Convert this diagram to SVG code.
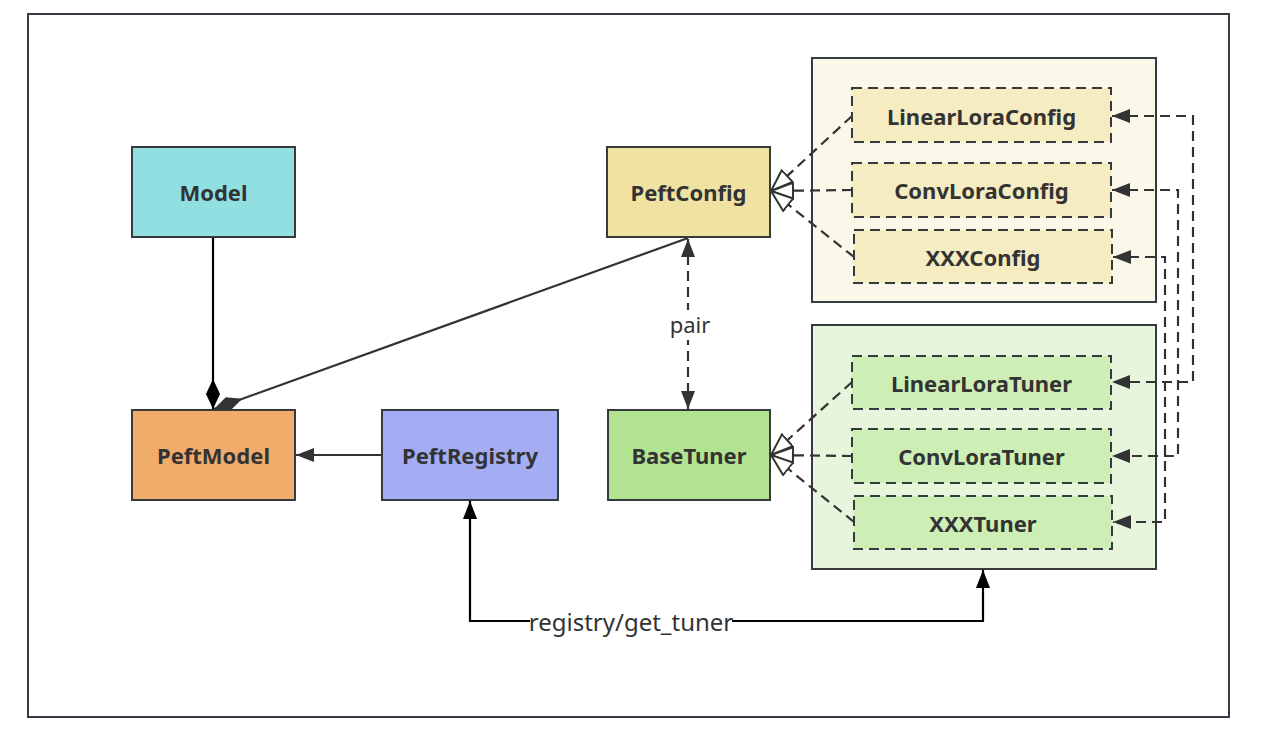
<svg xmlns="http://www.w3.org/2000/svg" width="1265" height="744" viewBox="0 0 1265 744">
<style>
.node{stroke:#353a3f;stroke-width:2}
.lbl{font-family:"Noto Sans","Open Sans","DejaVu Sans",sans-serif;font-weight:bold;font-size:22px;fill:#333;text-anchor:middle;dominant-baseline:central}
.txt{font-family:"Noto Sans","Open Sans","DejaVu Sans",sans-serif;font-size:22px;fill:#333;text-anchor:middle;dominant-baseline:central}
.dash{stroke-dasharray:10 6}
.c{fill:none;stroke:#333;stroke-width:2.2}
</style>
<defs>
<marker id="arr" viewBox="0 0 18 14" refX="18" refY="7" markerWidth="18" markerHeight="14" markerUnits="userSpaceOnUse" orient="auto-start-reverse">
<path d="M0,0 L18,7 L0,14 Z" fill="#333"/>
</marker>
<marker id="arrK" viewBox="0 0 18 14" refX="18" refY="7" markerWidth="18" markerHeight="14" markerUnits="userSpaceOnUse" orient="auto-start-reverse">
<path d="M0,0 L18,7 L0,14 Z" fill="#000"/>
</marker>
<marker id="tri" viewBox="0 0 24 18" refX="23" refY="9" markerWidth="24" markerHeight="18" markerUnits="userSpaceOnUse" orient="auto">
<path d="M1,1 L23,9 L1,17 Z" fill="#fff" stroke="#333" stroke-width="2"/>
</marker>
<marker id="dia" viewBox="0 0 30 14" refX="30" refY="7" markerWidth="30" markerHeight="14" markerUnits="userSpaceOnUse" orient="auto">
<path d="M0,7 L15,0 L30,7 L15,14 Z" fill="#333"/>
</marker>
<marker id="diaK" viewBox="0 0 30 14" refX="30" refY="7" markerWidth="30" markerHeight="14" markerUnits="userSpaceOnUse" orient="auto">
<path d="M0,7 L15,0 L30,7 L15,14 Z" fill="#000"/>
</marker>
</defs>
<rect x="0" y="0" width="1265" height="744" fill="#fff"/>
<rect x="28" y="14" width="1201" height="703" fill="#fff" stroke="#353c44" stroke-width="2"/>

<g id="config-group">
<rect x="812" y="58" width="344" height="244" fill="#fcf8e9" class="node"/>
</g>
<g id="tuner-group">
<rect x="812" y="325" width="344" height="244" fill="#e6f5dc" class="node"/>
</g>

<g id="connectors">
<line x1="213" y1="238" x2="213" y2="409" stroke="#000" stroke-width="2.2" marker-end="url(#diaK)"/>
<line x1="688" y1="238" x2="214" y2="409" class="c" marker-end="url(#dia)"/>
<line x1="382" y1="455" x2="296" y2="455" class="c" marker-end="url(#arr)"/>
<line x1="688" y1="239" x2="688" y2="409" class="c dash" marker-start="url(#arr)" marker-end="url(#arr)"/>
<path d="M852,116 L771,191" class="c dash" marker-end="url(#tri)"/>
<path d="M852,190 L771,191" class="c dash" marker-end="url(#tri)"/>
<path d="M854,257 L771,191" class="c dash" marker-end="url(#tri)"/>
<path d="M852,382 L771,455" class="c dash" marker-end="url(#tri)"/>
<path d="M852,456 L771,455" class="c dash" marker-end="url(#tri)"/>
<path d="M854,522 L771,455" class="c dash" marker-end="url(#tri)"/>
<path d="M1112,116 H1193 V382 H1112" class="c dash" marker-start="url(#arr)" marker-end="url(#arr)"/>
<path d="M1112,190 H1178 V456 H1112" class="c dash" marker-start="url(#arr)" marker-end="url(#arr)"/>
<path d="M1113,257 H1165 V522 H1113" class="c dash" marker-start="url(#arr)" marker-end="url(#arr)"/>
<path d="M470,501 V621 H983 V570" fill="none" stroke="#000" stroke-width="2.2" marker-start="url(#arrK)" marker-end="url(#arrK)"/>
<rect x="669" y="310" width="42" height="30" fill="#fff"/>
<text x="690" y="324" class="txt">pair</text>
<rect x="530" y="607" width="202" height="30" fill="#fff"/>
<text x="631" y="621" class="txt" style="font-size:24px">registry/get_tuner</text>
</g>

<g id="Model">
<rect x="132" y="147" width="163" height="90" fill="#92dfe1" class="node"/>
<text x="213.5" y="192" class="lbl">Model</text>
</g>
<g id="PeftModel">
<rect x="132" y="410" width="163" height="90" fill="#f1ab6a" class="node"/>
<text x="213.5" y="455" class="lbl">PeftModel</text>
</g>
<g id="PeftRegistry">
<rect x="382" y="410" width="176" height="90" fill="#a4adf3" class="node"/>
<text x="470" y="455" class="lbl">PeftRegistry</text>
</g>
<g id="PeftConfig">
<rect x="607" y="147" width="163" height="90" fill="#f0e2a0" class="node"/>
<text x="688.5" y="192" class="lbl">PeftConfig</text>
</g>
<g id="BaseTuner">
<rect x="608" y="410" width="162" height="90" fill="#b1e390" class="node"/>
<text x="689" y="455" class="lbl">BaseTuner</text>
</g>
<g id="LinearLoraConfig">
<rect x="852" y="88" width="259" height="54" fill="#f6ecc1" class="node dash"/>
<text x="981.5" y="116" class="lbl">LinearLoraConfig</text>
</g>
<g id="ConvLoraConfig">
<rect x="852" y="163" width="259" height="54" fill="#f6ecc1" class="node dash"/>
<text x="981.5" y="190" class="lbl">ConvLoraConfig</text>
</g>
<g id="XXXConfig">
<rect x="854" y="230" width="258" height="53" fill="#f6ecc1" class="node dash"/>
<text x="983" y="257" class="lbl">XXXConfig</text>
</g>
<g id="LinearLoraTuner">
<rect x="852" y="356" width="259" height="53" fill="#cdeeb5" class="node dash"/>
<text x="981.5" y="383" class="lbl">LinearLoraTuner</text>
</g>
<g id="ConvLoraTuner">
<rect x="852" y="429" width="259" height="54" fill="#cdeeb5" class="node dash"/>
<text x="981.5" y="456" class="lbl">ConvLoraTuner</text>
</g>
<g id="XXXTuner">
<rect x="854" y="496" width="258" height="53" fill="#cdeeb5" class="node dash"/>
<text x="983" y="523" class="lbl">XXXTuner</text>
</g>
</svg>
